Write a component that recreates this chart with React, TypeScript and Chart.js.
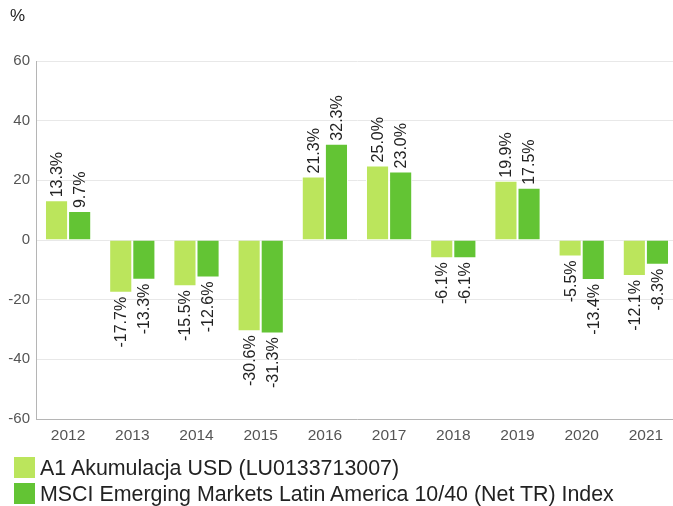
import React, { useEffect, useRef } from "react";
import { Chart, registerables } from "chart.js";

Chart.register(...registerables);

const categories = ["2012", "2013", "2014", "2015", "2016", "2017", "2018", "2019", "2020", "2021"];
const fundLabel = "A1 Akumulacja USD (LU0133713007)";
const indexLabel = "MSCI Emerging Markets Latin America 10/40 (Net TR) Index";
const fundValues = [13.3, -17.7, -15.5, -30.6, 21.3, 25.0, -6.1, 19.9, -5.5, -12.1];
const indexValues = [9.7, -13.3, -12.6, -31.3, 32.3, 23.0, -6.1, 17.5, -13.4, -8.3];
const yMin = -60;
const yMax = 60;
const yStep = 20;

const LIGHT = "#bbe55c";
const DARK = "#63c434";
const FONT = "'Liberation Sans', Arial, sans-serif";

const labelPlugin = {
  id: "barLabels",
  afterDatasetsDraw(chart: any) {
    const ctx = chart.ctx;
    ctx.save();
    ctx.font = `16px ${FONT}`;
    ctx.fillStyle = "#222";
    ctx.textBaseline = "middle";
    chart.data.datasets.forEach((ds: any, di: number) => {
      const meta = chart.getDatasetMeta(di);
      meta.data.forEach((el: any, i: number) => {
        const v = ds.data[i];
        const txt = v.toFixed(1) + "%";
        ctx.save();
        ctx.translate(el.x, el.y);
        ctx.rotate(-Math.PI / 2);
        if (v >= 0) {
          ctx.textAlign = "left";
          ctx.fillText(txt, 3, 1);
        } else {
          ctx.textAlign = "right";
          ctx.fillText(txt, -4, 1);
        }
        ctx.restore();
      });
    });
    ctx.restore();
  },
};

export default function App() {
  const ref = useRef<HTMLCanvasElement>(null);
  useEffect(() => {
    if (!ref.current) return;
    const chart = new Chart(ref.current, {
      type: "bar",
      data: {
        labels: categories,
        datasets: [
          { label: fundLabel, data: fundValues, backgroundColor: LIGHT, borderColor: "#ffffff", borderWidth: 1 },
          { label: indexLabel, data: indexValues, backgroundColor: DARK, borderColor: "#ffffff", borderWidth: 1 },
        ],
      },
      options: {
        responsive: false,
        animation: false,
        layout: { padding: { top: 61, left: 0, right: 0, bottom: 0 } },
        plugins: { legend: { display: false }, tooltip: { enabled: false } },
        datasets: { bar: { categoryPercentage: 0.72, barPercentage: 1 } },
        scales: {
          x: {
            grid: { display: false, drawTicks: false },
            border: { display: true, color: "#b5b5b5", width: 1 },
            ticks: { color: "#555", font: { family: FONT, size: 15.5 }, padding: 7, maxRotation: 0 },
            afterFit: (s: any) => { s.height = 87; },
          },
          y: {
            min: yMin,
            max: yMax,
            grid: { color: "#e8e8e8", drawTicks: false },
            border: { display: true, color: "#b5b5b5", width: 1 },
            ticks: { stepSize: yStep, color: "#555", font: { family: FONT, size: 15 }, padding: 6 },
            afterFit: (s: any) => { s.width = 36; },
          },
        },
      },
      plugins: [labelPlugin],
    });
    return () => chart.destroy();
  }, []);

  const sq = (c: string, top: number) => (
    <div style={{ position: "absolute", left: 14, top, width: 21, height: 21, background: c }} />
  );
  const txt = (t: string, top: number) => (
    <div style={{ position: "absolute", left: 40, top, font: `21.4px ${FONT}`, color: "#222", whiteSpace: "nowrap", lineHeight: "24px" }}>{t}</div>
  );

  return (
    <div style={{ position: "fixed", left: 0, top: 0, width: 673, height: 506, overflow: "hidden", background: "#fff" }}>
      <canvas ref={ref} width={678} height={506} style={{ position: "absolute", left: 0, top: 0, width: 678, height: 506 }} />
      <div style={{ position: "absolute", left: 10, top: 6, font: `17px ${FONT}`, color: "#222" }}>%</div>
      {sq(LIGHT, 457)}
      {txt(fundLabel, 456)}
      {sq(DARK, 483)}
      {txt(indexLabel, 482)}
    </div>
  );
}
